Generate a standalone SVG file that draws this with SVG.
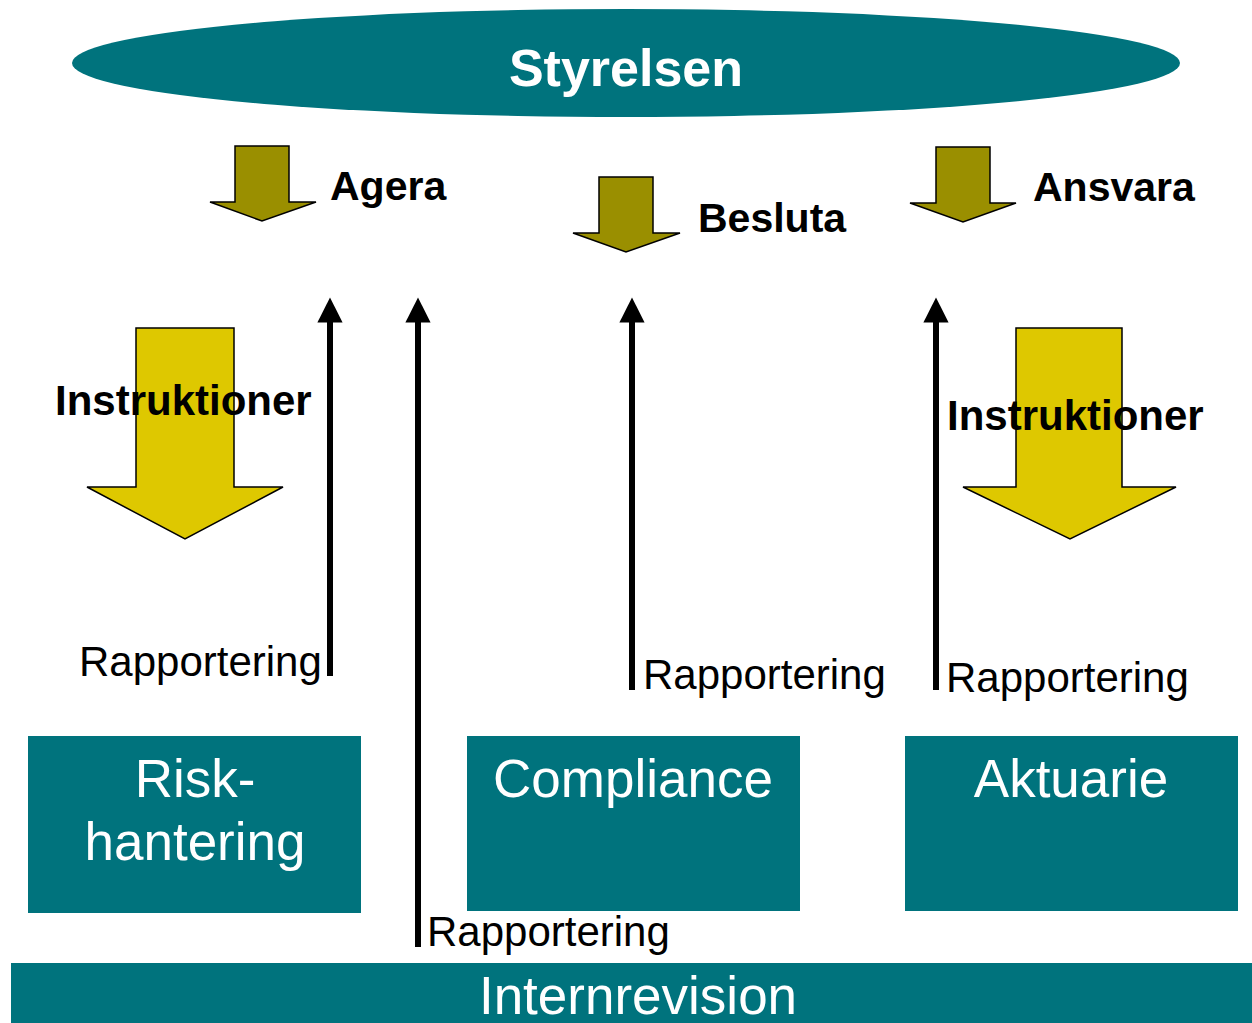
<svg xmlns="http://www.w3.org/2000/svg" width="1252" height="1023" viewBox="0 0 1252 1023">
<style>
.teal{fill:#00737D}
.wt{fill:#fff;font-family:"Liberation Sans",Arial,sans-serif}
.bk{fill:#000;font-family:"Liberation Sans",Arial,sans-serif}
.b{font-weight:bold}
.olive{fill:#9A8F00;stroke:#000;stroke-width:1.5}
.yel{fill:#DEC800;stroke:#000;stroke-width:1.5}
.up{stroke:#000;stroke-width:6;fill:none;marker-end:url(#ah)}
</style>
<defs>
<marker id="ah" markerWidth="4.2" markerHeight="4.2" refX="2.1" refY="2.1" orient="auto" markerUnits="strokeWidth" viewBox="0 0 4.2 4.2">
<path d="M0,0 L4.2,2.1 L0,4.2 Z" fill="#000"/>
</marker>
</defs>
<rect width="1252" height="1023" fill="#fff"/>
<g id="styrelsen">
<ellipse class="teal" cx="626" cy="63" rx="554" ry="54"/>
<text class="wt b" x="626" y="86" font-size="52" text-anchor="middle">Styrelsen</text>
</g>
<g id="agera">
<path class="olive" d="M235,146 H289 V202 H316 L262,221 L210,202 H235 Z"/>
<text class="bk b" x="330" y="200" font-size="41">Agera</text>
</g>
<g id="besluta">
<path class="olive" d="M599,177 H653 V233 H680 L626,252 L573,233 H599 Z"/>
<text class="bk b" x="698" y="232" font-size="41">Besluta</text>
</g>
<g id="ansvara">
<path class="olive" d="M936,147 H990 V203 H1016 L963,222 L910,203 H936 Z"/>
<text class="bk b" x="1033" y="201" font-size="41">Ansvara</text>
</g>
<g id="instr-left">
<path class="yel" d="M136,328 H234 V487 H283 L185,539 L87,487 H136 Z"/>
<text class="bk b" x="55" y="415" font-size="42">Instruktioner</text>
</g>
<g id="instr-right">
<path class="yel" d="M1016,328 H1122 V487 H1176 L1070,539 L963,487 H1016 Z"/>
<text class="bk b" x="947" y="430" font-size="42">Instruktioner</text>
</g>
<g id="connectors">
<line class="up" x1="330" y1="676" x2="330" y2="310"/>
<line class="up" x1="418" y1="947" x2="418" y2="310"/>
<line class="up" x1="632" y1="690" x2="632" y2="310"/>
<line class="up" x1="936" y1="690" x2="936" y2="310"/>
<text class="bk" x="79" y="676" font-size="42">Rapportering</text>
<text class="bk" x="643" y="689" font-size="42">Rapportering</text>
<text class="bk" x="946" y="692" font-size="42">Rapportering</text>
<text class="bk" x="427" y="946" font-size="42">Rapportering</text>
</g>
<g id="risk">
<rect class="teal" x="28" y="736" width="333" height="177"/>
<text class="wt" x="195" y="797" font-size="53" text-anchor="middle">Risk-</text>
<text class="wt" x="195" y="860" font-size="53" text-anchor="middle">hantering</text>
</g>
<g id="compliance">
<rect class="teal" x="467" y="736" width="333" height="175"/>
<text class="wt" x="633" y="797" font-size="53" text-anchor="middle">Compliance</text>
</g>
<g id="aktuarie">
<rect class="teal" x="905" y="736" width="333" height="175"/>
<text class="wt" x="1071" y="797" font-size="53" text-anchor="middle">Aktuarie</text>
</g>
<g id="internrevision">
<rect class="teal" x="11" y="963" width="1241" height="60"/>
<text class="wt" x="638" y="1014" font-size="53" text-anchor="middle">Internrevision</text>
</g>
</svg>
